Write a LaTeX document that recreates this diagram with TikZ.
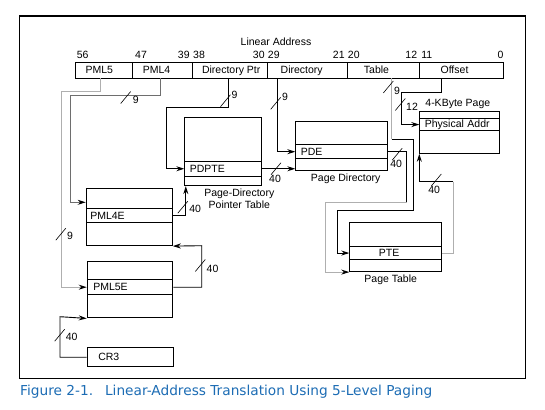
\documentclass[tikz,border=0pt]{standalone}
\usepackage{fontspec}
\setmainfont{Liberation Sans}
\newfontfamily\capfont{DejaVu Sans}
\usetikzlibrary{arrows.meta}
\definecolor{capblue}{RGB}{28,108,180}
\definecolor{paleline}{RGB}{175,175,175}
\definecolor{midline}{RGB}{110,110,110}
\tikzset{
    field/.style={draw, line width=1.1pt, anchor=north west, inner sep=0pt, minimum height=16},
    tbl/.style={draw, line width=1.1pt, anchor=north west, inner sep=0pt},
    entry/.style={draw, line width=1.1pt, anchor=north west, inner xsep=4pt, inner ysep=0pt, align=left},
    link/.style={line width=0.9pt, -{Stealth[length=8pt,width=5pt,color=black]}},
    wire/.style={line width=0.9pt},
    cut/.style={line width=0.6pt},
    bits/.style={anchor=base, inner sep=0pt},
    num/.style={inner sep=0pt}
}
\newcommand{\bitcut}[1]{\draw[cut] (#1) ++(-5,6) -- ++(10,-12);}
\begin{document}
\begin{tikzpicture}[x=1pt, y=-1pt, font=\fontsize{10.5}{12}\selectfont]
        \useasboundingbox (0,0) rectangle (545,409);
        \draw[line width=1.2pt] (19.3,16) rectangle (525.7,378.3);

        \node[bits] (linaddr) at (276,45.3) {Linear Address};

        \node[field, minimum width=57.6] (pml5) at (74.7,62.3) {};
        \node[field, minimum width=59.4] (pml4) at (132.3,62.3) {};
        \node[field, minimum width=75] (dptr) at (191.7,62.3) {};
        \node[field, minimum width=80] (dir) at (266.7,62.3) {};
        \node[field, minimum width=72.6] (table) at (346.7,62.3) {};
        \node[field, minimum width=83.4] (offset) at (419.3,62.3) {};

        \node[bits] (pml5txt) at (99.3,74) {PML5};
        \node[bits] (pml4txt) at (156.5,74) {PML4};
        \node[bits] (dptrtxt) at (231.2,74) {Directory Ptr};
        \node[bits] (dirtxt) at (301.7,74) {Directory};
        \node[bits] (tabletxt) at (376.5,74) {Table};
        \node[bits] (offsettxt) at (454.5,74) {Offset};

        \node[bits] (b56) at (82.7,59) {56};
        \node[bits] (b47) at (141,59) {47};
        \node[bits] (b39) at (183.8,59) {39};
        \node[bits] (b38) at (199,59) {38};
        \node[bits] (b30) at (258.8,59) {30};
        \node[bits] (b29) at (273.8,59) {29};
        \node[bits] (b21) at (338.8,59) {21};
        \node[bits] (b20) at (353.8,59) {20};
        \node[bits] (b12) at (411.3,59) {12};
        \node[bits] (b11) at (426.7,59) {11};
        \node[bits] (b0) at (500.5,59) {0};

        \node[tbl, minimum width=86, minimum height=56.7] (pml4t) at (85.7,188.3) {};
        \node[entry, text width=78, minimum height=14.6] (pml4e) at (85.7,207.7) {PML4E};

        \node[tbl, minimum width=85.6, minimum height=56.6] (pml5t) at (86.7,260.7) {};
        \node[entry, inner xsep=6pt, text width=73.6, minimum height=15.3] (pml5e) at (86.7,279) {PML5E};

        \node[tbl, minimum width=76.4, minimum height=67.7] (pdpt) at (184.3,117.3) {};
        \node[entry, inner xsep=5pt, text width=66.4, minimum height=15] (pdpte) at (184.3,160.7) {PDPTE};
        \node[anchor=north, align=center, inner sep=0pt] (pdptname) at (239.3,189) {Page-Directory\\Pointer Table};

        \node[tbl, minimum width=91.4, minimum height=49.3] (pd) at (295.3,120.7) {};
        \node[entry, inner xsep=5pt, text width=81.4, minimum height=14.3] (pde) at (295.3,144) {PDE};
        \node[bits] (pdname) at (345.7,181.7) {Page Directory};

        \node[tbl, minimum width=91.4, minimum height=49.3] (pt) at (349.3,221.7) {};
        \node[entry, inner xsep=29pt, text width=33.4, minimum height=13.6] (pte) at (349.3,245.7) {PTE};
        \node[bits] (ptname) at (390.7,282.3) {Page Table};

        \node[tbl, minimum width=79.7, minimum height=42] (page) at (419.3,110.7) {};
        \node[entry, inner xsep=5pt, text width=69.7, minimum height=12.6] (phys) at (419.3,117.7) {Physical Addr};
        \node[bits] (pagename) at (457.8,106.7) {4-KByte Page};

        \node[entry, inner xsep=11pt, text width=64.6, minimum height=18.7] (cr3) at (86.7,347.3) {CR3};

        \coordinate (p5out) at (100.3,78.3);
        \coordinate (p4out) at (160,78.3);
        \coordinate (dpout) at (228.3,78.3);
        \coordinate (dout) at (277.3,78.3);
        \coordinate (tout) at (391.7,78.3);
        \coordinate (oout) at (441.7,78.3);
        \coordinate (tbend) at (391.7,139.3);
        \coordinate (pdbend) at (406.7,202.7);
        \coordinate (ptbend) at (453.3,181.7);

        \draw[link, color=paleline] (p5out) |- (61.7,91.7) |- (pml5e.west);
        \draw[link, color=midline] (p4out) |- (70.7,95.7) |- (pml4t.west |- 0,202.3);
        \draw[link] (dpout) |- (166,107.7) |- (pdpte.west);
        \draw[link] (dout) |- (pde.west);
        \draw[wire, color=paleline] (tout) -- (tbend);
        \draw[link] (tbend) -| (413.3,210) -- (337.3,210) |- (pte.west);
        \draw[link] (oout) |- (401.7,92.7) |- (phys.west);

        \draw[link] (cr3.west) -| (60,316.7) -- (pml5t.south west);
        \draw[link] (pml5e.east) -| (201.7,245.7) -- (pml4t.south east);
        \draw[link] (pml4e.east) -| ([xshift=1.5pt]pdpt.south west);
        \draw[link] (pdpte.east) -- (pdpte.east -| pd.west);
        \draw[wire] (pde.east) -| (pdbend);
        \draw[link, color=paleline] (pdbend) -- (325.3,202.7) |- (pt.south west);
        \draw[wire, color=paleline] (pte.east) -| (ptbend);
        \draw[link] (ptbend) -| (page.south west);

        \bitcut{125.7,97.5}
        \bitcut{225.5,100.7}
        \bitcut{275.7,103.3}
        \bitcut{388.3,87}
        \bitcut{400.3,104.5}
        \bitcut{60.8,234.2}
        \bitcut{200.3,265.5}
        \bitcut{59.7,335.2}
        \bitcut{182.8,207.2}
        \bitcut{276,168.7}
        \bitcut{397.2,154.2}
        \bitcut{436.3,180}

        \node[num] (w4) at (135.8,100.3) {9};
        \node[num] (wdp) at (234.5,94.7) {9};
        \node[num] (wd) at (285,97) {9};
        \node[num] (wt) at (397,91.2) {9};
        \node[num] (wo) at (412,106.7) {12};
        \node[num] (w5) at (70,236.3) {9};
        \node[num] (a5) at (212.5,268.7) {40};
        \node[num] (acr) at (71.7,337.2) {40};
        \node[num] (a4) at (195.2,208.8) {40};
        \node[num] (adp) at (275,179.3) {40};
        \node[num] (ad) at (396.2,164) {40};
        \node[num] (at) at (434.2,190.3) {40};

        \node[anchor=base west, inner sep=0pt, text=capblue, font=\capfont\fontsize{13.7}{16}\selectfont] (caption) at (20,395.5) {Figure 2-1.\hspace{12pt}Linear-Address Translation Using 5-Level Paging};
    \end{tikzpicture}
\end{document}
